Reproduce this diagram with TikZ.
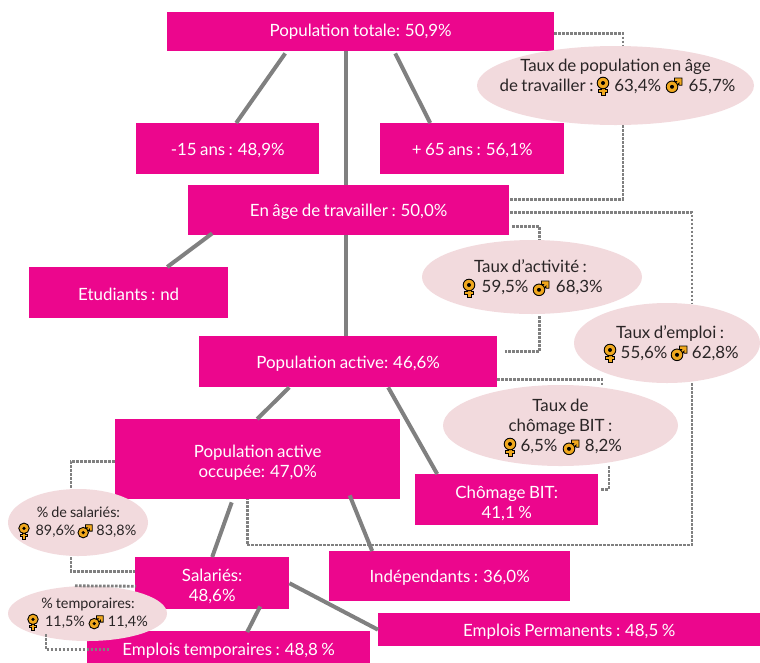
\documentclass[tikz,border=0pt]{standalone}
\usepackage{fontspec}
\setmainfont{Lato}[WordSpace=0.8]
\usetikzlibrary{shapes.geometric}
\definecolor{pk}{HTML}{EC068D}
\definecolor{bub}{HTML}{F2DADD}
\definecolor{gr}{HTML}{808080}
\definecolor{gold}{HTML}{F0A81E}
\definecolor{ink}{HTML}{2A2526}
\newcommand{\topstrut}{\rule{0pt}{19pt}}
\tikzset{
  x=1pt,y=-1pt,
  pbox/.style={fill=pk,text=white,inner sep=0pt,align=center,font=\fontsize{16.9}{20}\selectfont,anchor=north west},
  sbox/.style={pbox,execute at begin node={\rule{0pt}{16pt}}},
  bubble/.style={ellipse,fill=bub,inner sep=0pt},
  btxt/.style={text=ink,inner sep=0pt,align=center,font=\fontsize{16.9}{20}\selectfont},
  stxt/.style={text=ink,inner sep=0pt,align=center,font=\fontsize{14.4}{18}\selectfont},
  solidline/.style={draw=gr,line width=4pt},
  dotline/.style={draw=gr,line width=2.8pt,dash pattern=on 2.6pt off 1.4pt},
  fem/.pic={
    \path[fill=gold,draw=black,line width=.9pt] (-2,1) -- (-2,3.6) -- (-4.2,3.6) -- (-4.2,6) -- (-2,6) -- (-2,9) -- (2,9) -- (2,6) -- (4.2,6) -- (4.2,3.6) -- (2,3.6) -- (2,1) -- cycle;
    \path[fill=gold,draw=black,line width=.9pt] (0,-3) circle[radius=5.8];
    \path[fill=black] (0,-3) circle[radius=2];
  },
  masc/.pic={
    \path[fill=gold,draw=black,line width=.9pt] (0,-1) -- (2.5,-3.5) -- (.5,-3.5) -- (.5,-7) -- (8,-7) -- (8,.2) -- (5,.2) -- (5,-1.8) -- (3,.5) -- cycle;
    \path[fill=gold,draw=black,line width=.9pt] (-2,1.8) circle[radius=5.8];
    \path[fill=black] (-2,1.8) circle[radius=2];
  },
}
\newcommand{\gapM}{\hspace{24pt}}
\begin{document}
\begin{tikzpicture}
\useasboundingbox (0,0) rectangle (760,662);
% boxes
\node[pbox,minimum width=387pt,minimum height=39pt] (tot) at (167,12) {Population totale: 50,9\%};
\node[sbox,minimum width=183pt,minimum height=51pt] (m15) at (136,123) {-15 ans : 48,9\%};
\node[sbox,minimum width=184pt,minimum height=51pt] (p65) at (380,123) {+ 65 ans : 56,1\%};
\node[sbox,minimum width=321pt,minimum height=50pt] (age) at (188,185) {En âge de travailler : 50,0\%};
\node[sbox,minimum width=199pt,minimum height=51pt] (etu) at (29,267) {Etudiants : nd};
\node[sbox,minimum width=298pt,minimum height=51pt] (act) at (199,336) {Population active: 46,6\%};
\node[pbox,minimum width=285pt,minimum height=80pt] (occ) at (115,419) {\topstrut Population active\\occupée: 47,0\%};
\node[pbox,minimum width=183pt,minimum height=51pt] (cho) at (415,474) {\topstrut Chômage BIT:\\41,1 \%};
\node[pbox,minimum width=154pt,minimum height=52pt] (sal) at (135,557) {\topstrut Salariés:\\48,6\%};
\node[sbox,minimum width=241pt,minimum height=50pt] (ind) at (329,551) {Indépendants : 36,0\%};
\node[sbox,minimum width=382pt,minimum height=33pt] (per) at (378,613) {Emplois Permanents : 48,5 \%};
\node[sbox,minimum width=283pt,minimum height=36pt] (tem) at (87,631) {Emplois temporaires : 48,8 \%};
% bubbles
\node[bubble,minimum width=277pt,minimum height=79pt] (e1) at (615.5,85.5) {};
\node[bubble,minimum width=220pt,minimum height=74pt] (e2) at (532,277) {};
\node[bubble,minimum width=186pt,minimum height=80pt] (e3) at (667,343) {};
\node[bubble,minimum width=235pt,minimum height=81pt] (e4) at (560.5,425.5) {};
\node[bubble,minimum width=140pt,minimum height=67pt] (e5) at (78,522.5) {};
\node[bubble,minimum width=159pt,minimum height=55pt] (e6) at (87.5,613.5) {};
\coordinate (low) at (470,545);
% solid connectors
\draw[solidline] ([xshift=-75.5pt,yshift=-2pt]tot.south) -- ([xshift=8.5pt]m15.north);
\draw[solidline] ([xshift=-14.5pt]tot.south) -- ([xshift=-2.5pt]age.north);
\draw[solidline] ([xshift=34.5pt,yshift=-2pt]tot.south) -- ([xshift=-42pt]p65.north);
\draw[solidline] ([xshift=-136.5pt,yshift=2pt]age.south) -- ([xshift=38.5pt]etu.north);
\draw[solidline] ([xshift=-2.5pt]age.south) -- ([xshift=-2pt]act.north);
\draw[solidline] ([xshift=-59pt]act.south) -- ([xshift=-0.5pt]occ.north);
\draw[solidline] ([xshift=40pt]act.south) -- ([xshift=-69.5pt]cho.north);
\draw[solidline] ([xshift=-26pt,yshift=-3pt]occ.south) -- (sal.north);
\draw[solidline] ([xshift=92pt,yshift=4pt]occ.south) -- ([xshift=-77.5pt]ind.north);
\draw[solidline] ([xshift=48pt,yshift=3pt]sal.south) -- ([xshift=18.5pt,yshift=-1pt]tem.north);
\draw[solidline] (sal.east) -- (per.west);
% dotted connectors
\draw[dotline] ([yshift=-1.5pt]tot.east) -| ([xshift=7.5pt]e1.north);
\draw[dotline] ([xshift=7.5pt]e1.south) |- ([xshift=1pt,yshift=11pt]age.east);
\draw[dotline] ([xshift=1pt,yshift=-2pt]age.east) -| ([xshift=25pt]e3.north);
\draw[dotline] ([xshift=25pt]e3.south) |- (low) -| ([xshift=-10.5pt]occ.south);
\draw[dotline] ([xshift=3pt,yshift=-16pt]age.east) -| ([xshift=7.5pt]e2.north);
\draw[dotline] ([xshift=7.5pt,yshift=-2pt]e2.south) |- ([xshift=8pt,yshift=10.5pt]act.east);
\draw[dotline] ([yshift=-17.5pt]act.east) -| ([xshift=41.5pt]e4.north);
\draw[dotline] ([xshift=48.5pt]e4.south) |- ([xshift=2pt,yshift=10.5pt]cho.east);
\draw[dotline] ([yshift=-2pt]occ.west) -| ([xshift=-7pt]e5.north);
\draw[dotline] ([xshift=-7pt,yshift=-1pt]e5.south) |- ([yshift=12pt]sal.west);
\draw[dotline] ([xshift=-12.5pt]e6.north) -- ([xshift=1pt,yshift=-3pt]sal.west);
\draw[dotline] ([xshift=-41.5pt,yshift=7pt]e6.south) |- ([xshift=23pt,yshift=-.5pt]tem.west);
% bubble text
\node[btxt] (t1) at (615.5,76) {Taux de population en âge\\\hspace*{4pt}de travailler :\hspace{16pt} 63,4\%\gapM{} 65,7\%};
\node[btxt] (t2) at (530.5,277) {Taux d’activité :\\\hspace*{20pt} 59,5\%\gapM{} 68,3\%};
\node[btxt] (t3) at (670,343) {Taux d’emploi :\\\hspace*{16pt} 55,6\%\hspace{21pt} 62,8\%};
\node[btxt] (t4) at (560.5,426) {Taux de\\chômage BIT :\\\hspace*{18pt} 6,5\%\gapM{} 8,2\%};
\node[stxt] (t5) at (78.5,522) {\% de salariés:\\\hspace*{12pt} 89,6\%\hspace{18pt} 83,8\%};
\node[stxt] (t6) at (88,613.5) {\% temporaires:\\\hspace*{14pt} 11,5\%\hspace{20pt} 11,4\%};
% icons
\path (603,86) pic{fem} (674,85) pic{masc};
\path (469,288) pic{fem} (541,288) pic{masc};
\path (610,353) pic{fem} (679,353) pic{masc};
\path (510,447) pic{fem} (571,447) pic{masc};
\path (24,531) pic[scale=.9]{fem} (85,531) pic[scale=.9]{masc};
\path (33,622) pic[scale=.9]{fem} (96,622) pic[scale=.9]{masc};
\end{tikzpicture}
\end{document}
